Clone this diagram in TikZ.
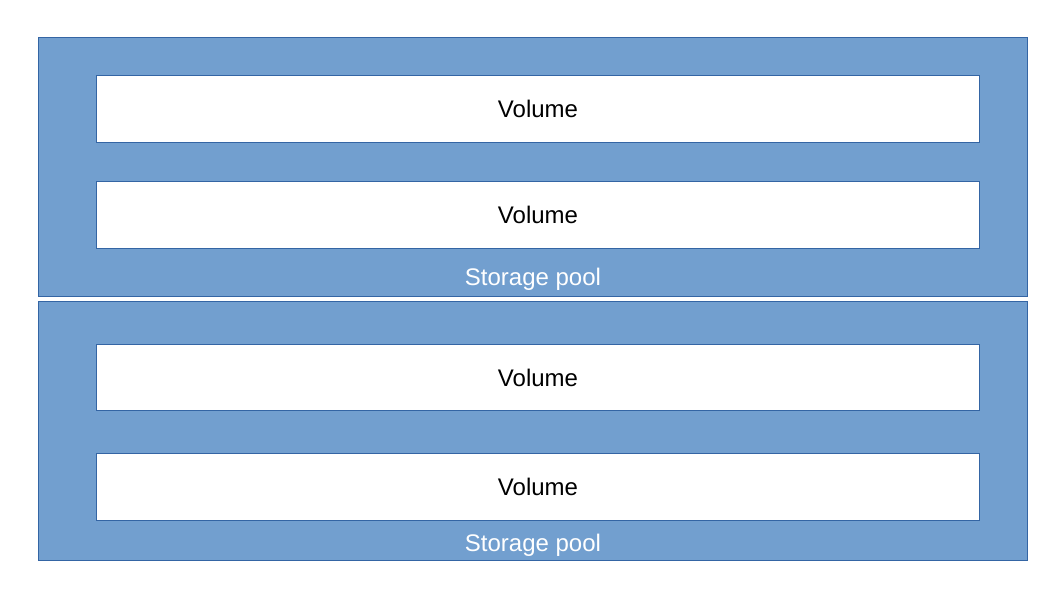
\documentclass[tikz,border=0pt]{standalone}
\usepackage{fontspec}
\setmainfont{Liberation Sans}
\definecolor{poolfill}{HTML}{729FCF}
\definecolor{pooledge}{HTML}{3465A4}
\begin{document}
\begin{tikzpicture}[x=1pt,y=-1pt,
  pool/.style={draw=pooledge,fill=poolfill,line width=0.9pt},
  volume/.style={draw=pooledge,fill=white,line width=0.9pt},
  vlabel/.style={font=\fontsize{24}{28}\selectfont,text=black},
  plabel/.style={font=\fontsize{24}{28}\selectfont,text=white}]
\useasboundingbox (0,0) rectangle (1058,595);
% pool 1
\path[pool] (38.5,37.5) rectangle (1027.5,296.5);
\node[plabel] (pl1) at (533,279) {Storage pool};
\path[volume] (96.5,75.5) rectangle (979.5,142.5);
\node[vlabel] (v1) at (538,108.5) {Volume};
\path[volume] (96.5,181.5) rectangle (979.5,248.5);
\node[vlabel] (v2) at (538,215) {Volume};
% pool 2
\path[pool] (38.5,301.5) rectangle (1027.5,560.5);
\node[plabel] (pl2) at (533,545) {Storage pool};
\path[volume] (96.5,344) rectangle (979.5,410.5);
\node[vlabel] (v3) at (538,377.5) {Volume};
\path[volume] (96.5,453.5) rectangle (979.5,520.5);
\node[vlabel] (v4) at (538,487) {Volume};
\end{tikzpicture}
\end{document}
